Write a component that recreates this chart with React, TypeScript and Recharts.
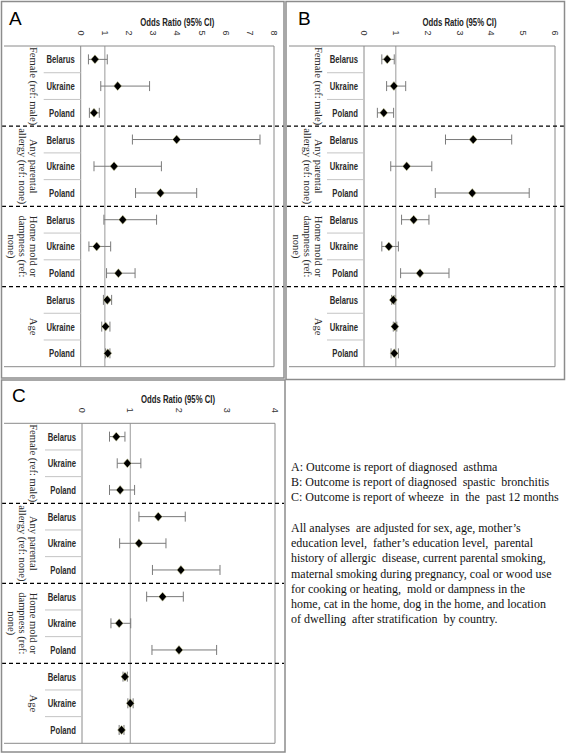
import React from "react";
import { ScatterChart, Scatter, XAxis, YAxis, ErrorBar, ReferenceLine } from "recharts";

const countries = ["Belarus", "Ukraine", "Poland"];
const groupLabels: string[][] = [
  ["Female (ref: male)"],
  ["Any parental", "allergy (ref: none)"],
  ["Home mold or", "dampness (ref:", "none)"],
  ["Age"],
];

// Panel A: diagnosed asthma
const orA = [0.59, 1.53, 0.55, 3.97, 1.38, 3.3, 1.74, 0.66, 1.56, 1.1, 1.03, 1.12];
const loA = [0.32, 0.83, 0.36, 2.14, 0.55, 2.27, 0.96, 0.34, 1.07, 0.94, 0.87, 1.03];
const hiA = [1.1, 2.85, 0.77, 7.42, 3.34, 4.8, 3.14, 1.24, 2.25, 1.28, 1.21, 1.21];
const ticksA = [0, 1, 2, 3, 4, 5, 6, 7, 8];

// Panel B: diagnosed spastic bronchitis
const orB = [0.73, 0.94, 0.62, 3.43, 1.34, 3.4, 1.56, 0.78, 1.76, 0.92, 0.97, 0.95];
const loB = [0.56, 0.71, 0.42, 2.56, 0.84, 2.24, 1.18, 0.56, 1.15, 0.87, 0.92, 0.85];
const hiB = [0.95, 1.31, 0.93, 4.64, 2.13, 5.19, 2.04, 1.08, 2.67, 0.97, 1.03, 1.08];
const ticksB = [0, 1, 2, 3, 4, 5, 6];

// Panel C: wheeze in past 12 months
const orC = [0.71, 0.94, 0.79, 1.58, 1.18, 2.05, 1.67, 0.77, 2.01, 0.89, 1.0, 0.82];
const loC = [0.57, 0.73, 0.57, 1.18, 0.78, 1.46, 1.34, 0.6, 1.45, 0.85, 0.95, 0.77];
const hiC = [0.89, 1.22, 1.09, 2.14, 1.74, 2.86, 2.1, 1.01, 2.79, 0.94, 1.06, 0.87];
const ticksC = [0, 1, 2, 3, 4];

const axisTitle = "Odds Ratio (95% CI)";

const notesTop = [
  "A: Outcome is report of diagnosed  asthma",
  "B: Outcome is report of diagnosed  spastic  bronchitis",
  "C: Outcome is report of wheeze  in  the  past 12 months",
];
const notesBottom = [
  "All analyses  are adjusted for sex, age, mother\u2019s",
  "education level,  father\u2019s education level,  parental",
  "history of allergic  disease, current parental smoking,",
  "maternal smoking during pregnancy, coal or wood use",
  "for cooking or heating,  mold or dampness in the",
  "home, cat in the home, dog in the home, and location",
  "of dwelling  after stratification  by country.",
];

const sans = "'Liberation Sans', Arial, sans-serif";
const serif = "'Liberation Serif', 'Times New Roman', serif";

type PanelProps = {
  left: number;
  top: number;
  width: number;
  height: number;
  plotLeft: number;
  plotRight: number;
  plotTop: number;
  plotBottom: number;
  max: number;
  ticks: number[];
  or: number[];
  lo: number[];
  hi: number[];
};

const Diamond = (p: any) => {
  const { cx, cy } = p;
  if (cx == null || cy == null) return null;
  return (
    <polygon
      points={`${cx},${cy - 4.5} ${cx + 4},${cy} ${cx},${cy + 4.5} ${cx - 4},${cy}`}
      fill="#000"
      stroke="#d8d8a0"
      strokeWidth={0.5}
    />
  );
};

function Panel(props: PanelProps) {
  const { left, top, width, height, plotLeft, plotRight, plotTop, plotBottom, max, ticks, or, lo, hi } = props;
  const data = or.map((v, i) => ({ x: v, y: i + 0.5, err: [v - lo[i], hi[i] - v] }));
  const yTicks = Array.from({ length: 25 }, (_, i) => i / 2);

  const YTick = (tp: any) => {
    const { y, payload } = tp;
    const v = payload.value as number;
    if (Number.isInteger(v)) {
      if (v === 0 || v === 12) {
        return <line x1={4} x2={plotRight} y1={y} y2={y} stroke="#8a8a8a" strokeWidth={1} />;
      }
      if (v % 3 === 0) {
        return <line x1={2} x2={width - 1} y1={y} y2={y} stroke="#000" strokeWidth={1.3} strokeDasharray="4 3" />;
      }
      return <line x1={plotLeft - 37} x2={plotLeft} y1={y} y2={y} stroke="#c4c4c4" strokeWidth={1} />;
    }
    const idx = Math.floor(v);
    const g = Math.floor(idx / 3);
    const els: any[] = [
      <text
        key="c"
        transform={`translate(${plotLeft - 6},${y}) scale(0.7,1)`}
        textAnchor="end"
        dominantBaseline="central"
        fontFamily={sans}
        fontWeight="bold"
        fontSize={11}
        fill="#2a2a2a"
      >
        {countries[idx % 3]}
      </text>,
    ];
    if (idx % 3 === 1) {
      const lines = groupLabels[g];
      els.push(
        <text
          key="g"
          transform={`translate(33,${y}) rotate(90)`}
          textAnchor="middle"
          fontFamily={serif}
          fontSize={10.5}
          fill="#2a2a2a"
        >
          {lines.map((ln, k) => (
            <tspan key={k} x={0} y={3.5 + k * 11}>
              {ln}
            </tspan>
          ))}
        </text>
      );
    }
    return <g>{els}</g>;
  };

  const XTick = (tp: any) => {
    const { x, payload } = tp;
    return (
      <text
        transform={`translate(${x},${plotTop - 13}) rotate(90)`}
        textAnchor="middle"
        dominantBaseline="central"
        fontFamily={sans}
        fontSize={9}
        fill="#333"
      >
        {payload.value}
      </text>
    );
  };

  return (
    <div style={{ position: "absolute", left, top, width, height }}>
      <ScatterChart
        width={width}
        height={height}
        margin={{ top: plotTop - 30, right: width - plotRight, bottom: height - plotBottom, left: 0 }}
      >
        <XAxis
          type="number"
          dataKey="x"
          orientation="top"
          domain={[0, max]}
          ticks={ticks}
          interval={0}
          height={30}
          axisLine={false}
          tickLine={false}
          tick={<XTick />}
          allowDataOverflow
        />
        <YAxis
          type="number"
          dataKey="y"
          domain={[0, 12]}
          reversed
          ticks={yTicks}
          interval={0}
          width={plotLeft}
          axisLine={{ stroke: "#8a8a8a" }}
          tickLine={false}
          tick={<YTick />}
          allowDataOverflow
        />
        <ReferenceLine x={1} stroke="#9a9a9a" strokeWidth={1} />
        <ReferenceLine x={max} stroke="#8a8a8a" strokeWidth={1} />
        <Scatter data={data} shape={<Diamond />} isAnimationActive={false}>
          <ErrorBar dataKey="err" direction="x" width={5} stroke="#7a7a7a" strokeWidth={1} />
        </Scatter>
      </ScatterChart>
    </div>
  );
}

const Title = ({ x, y }: { x: number; y: number }) => (
  <text
    transform={`translate(${x},${y}) scale(0.74,1)`}
    textAnchor="middle"
    fontFamily={sans}
    fontWeight="bold"
    fontSize={10.5}
    fill="#222"
  >
    {axisTitle}
  </text>
);

export default function App() {
  return (
    <div style={{ position: "absolute", left: 0, top: 0, width: 567, height: 756, background: "#fff" }}>
      <Panel left={0} top={0} width={285} height={380} plotLeft={80.7} plotRight={274} plotTop={46} plotBottom={366.7} max={8} ticks={ticksA} or={orA} lo={loA} hi={hiA} />
      <Panel left={285} top={0} width={282} height={380} plotLeft={79} plotRight={270} plotTop={46} plotBottom={366.7} max={6} ticks={ticksB} or={orB} lo={loB} hi={hiB} />
      <Panel left={0} top={376} width={285} height={380} plotLeft={82} plotRight={275} plotTop={47.3} plotBottom={367.3} max={4} ticks={ticksC} or={orC} lo={loC} hi={hiC} />
      <svg width={567} height={756} style={{ position: "absolute", left: 0, top: 0, pointerEvents: "none" }}>
        <rect x={1.5} y={1.5} width={282.5} height={376.5} fill="none" stroke="#8c8c8c" strokeWidth={1.5} />
        <rect x={286} y={1.5} width={278.5} height={378} fill="none" stroke="#8c8c8c" strokeWidth={1.5} />
        <rect x={1.5} y={380} width={283.5} height={372} fill="none" stroke="#8c8c8c" strokeWidth={1.5} />
        <text x={9} y={25} fontFamily={sans} fontSize={19}>A</text>
        <text x={298} y={25} fontFamily={sans} fontSize={19}>B</text>
        <text x={12} y={402} fontFamily={sans} fontSize={19}>C</text>
        <Title x={177.3} y={25.5} />
        <Title x={459.5} y={25.5} />
        <Title x={178} y={402.5} />
        {notesTop.map((t, i) => (
          <text key={"t" + i} x={291} y={470.7 + i * 15.3} fontFamily={serif} fontSize={12} fill="#111" style={{ whiteSpace: "pre" }}>
            {t}
          </text>
        ))}
        {notesBottom.map((t, i) => (
          <text key={"b" + i} x={291} y={532.3 + i * 15.07} fontFamily={serif} fontSize={12} fill="#111" style={{ whiteSpace: "pre" }}>
            {t}
          </text>
        ))}
      </svg>
    </div>
  );
}
